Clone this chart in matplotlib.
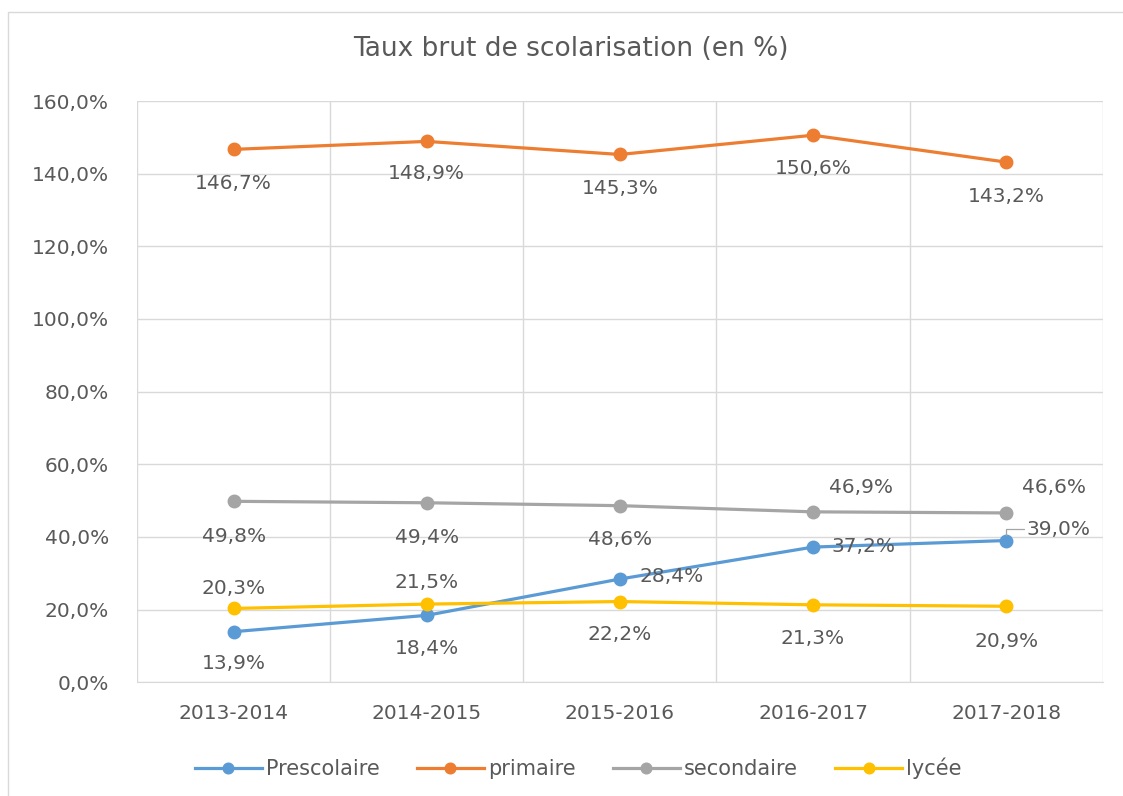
import matplotlib.pyplot as plt
from matplotlib.ticker import FuncFormatter, MultipleLocator
from matplotlib.patches import Rectangle

plt.rcParams['font.family'] = ['DejaVu Sans']

annees = ['2013-2014', '2014-2015', '2015-2016', '2016-2017', '2017-2018']
prescolaire = [13.9, 18.4, 28.4, 37.2, 39.0]
primaire = [146.7, 148.9, 145.3, 150.6, 143.2]
secondaire = [49.8, 49.4, 48.6, 46.9, 46.6]
lycee = [20.3, 21.5, 22.2, 21.3, 20.9]

series = [
    ('Prescolaire', prescolaire, '#5B9BD5',
     [(0, -32), (0, -33), (52, 3), (50, 1), (52, 11)]),
    ('primaire', primaire, '#ED7D31',
     [(0, -34), (0, -32), (0, -34), (0, -33), (0, -34)]),
    ('secondaire', secondaire, '#A5A5A5',
     [(0, -35), (0, -35), (0, -34), (48, 24), (48, 25)]),
    ('lycée', lycee, '#FFC000',
     [(0, 20), (0, 22), (0, -33), (0, -34), (0, -35)]),
]

txt = '#595959'
fig = plt.figure(figsize=(11.23, 7.96), dpi=100)
ax = fig.add_axes([0.122, 0.143, 0.860, 0.730])

x = list(range(len(annees)))
for nom, vals, col, offs in series:
    ax.plot(x, vals, color=col, lw=2.3, marker='o', ms=9, label=nom, zorder=3)
    for xi, v, (dx, dy) in zip(x, vals, offs):
        ax.annotate(f'{v:.1f}%'.replace('.', ','), (xi, v), xytext=(dx, dy),
                    textcoords='offset pixels', ha='center', va='center',
                    fontsize=14.5, color=txt, zorder=4)

# leader line for 39,0%
ax.annotate('', (4, prescolaire[4]), xytext=(18, 12), textcoords='offset pixels',
            arrowprops=dict(arrowstyle='-', color='#A5A5A5', lw=0.9,
                            shrinkA=0, shrinkB=4,
                            connectionstyle='angle,angleA=0,angleB=90,rad=0'))

ax.set_xlim(-0.5, 4.5)
ax.set_ylim(0, 160)
ax.yaxis.set_major_locator(MultipleLocator(20))
ax.yaxis.set_major_formatter(FuncFormatter(lambda v, p: f'{v:.1f}%'.replace('.', ',')))
ax.set_xticks(x)
ax.set_xticklabels(annees)
ax.set_xticks([i - 0.5 for i in range(len(annees) + 1)], minor=True)
ax.grid(axis='y', which='major', color='#D9D9D9', lw=1)
ax.grid(axis='x', which='minor', color='#D9D9D9', lw=1)
ax.tick_params(which='both', length=0, labelsize=14.5, colors=txt)
ax.tick_params(axis='x', pad=16)
ax.tick_params(axis='y', pad=20)
for s in ax.spines.values():
    s.set_visible(False)
ax.spines['bottom'].set_visible(True)
ax.spines['bottom'].set_color('#D9D9D9')

fig.text(0.508, 0.939, 'Taux brut de scolarisation (en %)', ha='center',
         va='center', fontsize=19, color=txt)

fig.legend(loc='center', bbox_to_anchor=(0.515, 0.035), ncol=4, frameon=False,
           fontsize=15, labelcolor=txt, handlelength=3.2, columnspacing=1.8,
           handletextpad=0.2, markerscale=0.85)

fig.patches.append(Rectangle((0.007, -0.1), 1.1, 1.085, transform=fig.transFigure,
                             fill=False, edgecolor='#D9D9D9', lw=1))

fig.savefig('out.png', dpi=100)
